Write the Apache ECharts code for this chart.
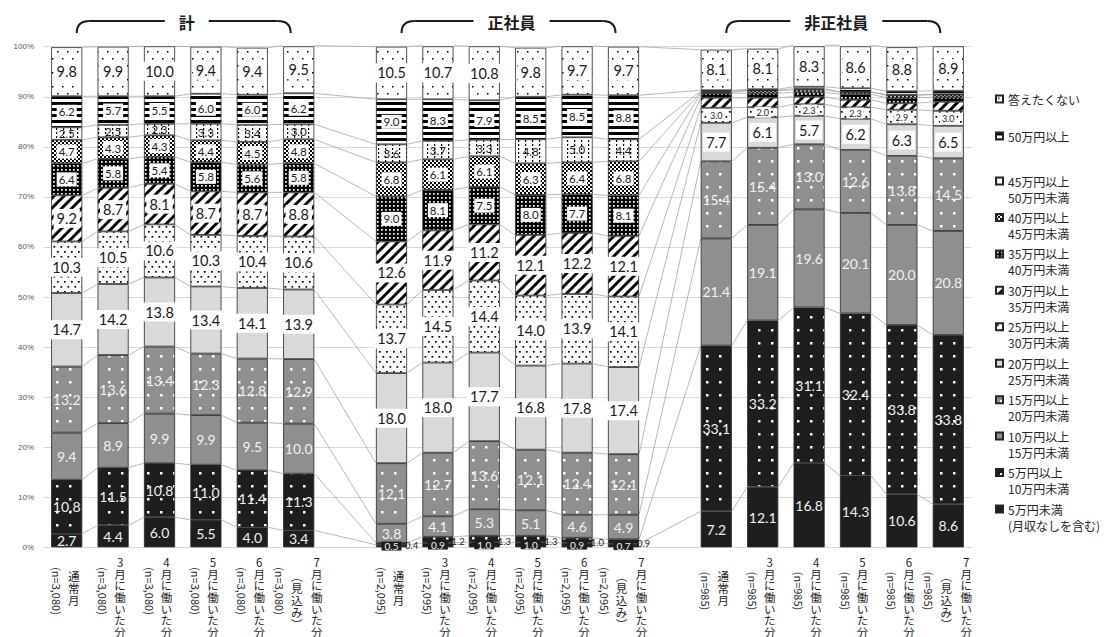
<!DOCTYPE html>
<html>
<head>
<meta charset="utf-8">
<script src="https://cdn.jsdelivr.net/npm/echarts@6/dist/echarts.min.js"></script>
<style>
  html, body { margin: 0; padding: 0; background: #ffffff; }
  #chart { width: 1105px; height: 637px; }
</style>
</head>
<body>
<div id="chart"></div>
<script>
// ---- data -------------------------------------------------------------
const groups = ['計', '正社員', '非正社員'];
const sampleSizes = ['3,080', '2,095', '985'];
const periods = ['通常月', '3月に働いた分', '4月に働いた分', '5月に働いた分', '6月に働いた分', '7月に働いた分'];

// income bands, bottom of the stack first
const bandNames = [
  '5万円未満（月収なしを含む）', '5万円以上10万円未満', '10万円以上15万円未満', '15万円以上20万円未満',
  '20万円以上25万円未満', '25万円以上30万円未満', '30万円以上35万円未満', '35万円以上40万円未満',
  '40万円以上45万円未満', '45万円以上50万円未満', '50万円以上', '答えたくない'
];
const legendLabels = [
  '5万円未満\n(月収なしを含む)', '5万円以上\n10万円未満', '10万円以上\n15万円未満', '15万円以上\n20万円未満',
  '20万円以上\n25万円未満', '25万円以上\n30万円未満', '30万円以上\n35万円未満', '35万円以上\n40万円未満',
  '40万円以上\n45万円未満', '45万円以上\n50万円未満', '50万円以上', '答えたくない'
];

// each array: 計 ×6, 正社員 ×6, 非正社員 ×6 (%)
const under5   = [2.7, 4.4, 6.0, 5.5, 4.0, 3.4,   0.5, 0.9, 1.0, 1.0, 0.9, 0.7,   7.2, 12.1, 16.8, 14.3, 10.6, 8.6];
const from5    = [10.8, 11.5, 10.8, 11.0, 11.4, 11.3,   0.4, 1.2, 1.3, 1.3, 1.0, 0.9,   33.1, 33.2, 31.1, 32.4, 33.8, 33.8];
const from10   = [9.4, 8.9, 9.9, 9.9, 9.5, 10.0,   3.8, 4.1, 5.3, 5.1, 4.6, 4.9,   21.4, 19.1, 19.6, 20.1, 20.0, 20.8];
const from15   = [13.2, 13.6, 13.4, 12.3, 12.8, 12.9,   12.1, 12.7, 13.6, 12.1, 12.4, 12.1,   15.4, 15.4, 13.0, 12.6, 13.8, 14.5];
const from20   = [14.7, 14.2, 13.8, 13.4, 14.1, 13.9,   18.0, 18.0, 17.7, 16.8, 17.8, 17.4,   7.7, 6.1, 5.7, 6.2, 6.3, 6.5];
const from25   = [10.3, 10.5, 10.6, 10.3, 10.4, 10.6,   13.7, 14.5, 14.4, 14.0, 13.9, 14.1,   3.0, 2.0, 2.3, 2.3, 2.9, 3.0];
const from30   = [9.2, 8.7, 8.1, 8.7, 8.7, 8.8,   12.6, 11.9, 11.2, 12.1, 12.2, 12.1,   2.0, 1.9, 1.5, 1.5, 1.3, 1.8];
const from35   = [6.4, 5.8, 5.4, 5.8, 5.6, 5.8,   9.0, 8.1, 7.5, 8.0, 7.7, 8.1,   0.9, 0.9, 0.9, 1.1, 1.1, 0.9];
const from40   = [4.7, 4.3, 4.3, 4.4, 4.5, 4.8,   6.8, 6.1, 6.1, 6.3, 6.4, 6.8,   0.2, 0.5, 0.5, 0.4, 0.5, 0.5];
const from45   = [2.5, 2.5, 2.3, 3.3, 3.4, 3.0,   3.6, 3.7, 3.3, 4.8, 5.0, 4.4,   0.2, 0.1, 0.2, 0.1, 0.1, 0.1];
const over50   = [6.2, 5.7, 5.5, 6.0, 6.0, 6.2,   9.0, 8.3, 7.9, 8.5, 8.5, 8.8,   0.2, 0.2, 0.4, 0.7, 0.7, 0.7];
const noAnswer = [9.8, 9.9, 10.0, 9.4, 9.4, 9.5,   10.5, 10.7, 10.8, 9.8, 9.7, 9.7,   8.1, 8.1, 8.3, 8.6, 8.8, 8.9];

const bands = [under5, from5, from10, from15, from20, from25, from30, from35, from40, from45, over50, noAnswer];

// ---- fills ------------------------------------------------------------
function tile(w, h, bg, draw) {
  const c = document.createElement('canvas');
  c.width = w; c.height = h;
  const ctx = c.getContext('2d');
  ctx.fillStyle = bg; ctx.fillRect(0, 0, w, h);
  draw(ctx);
  return { image: c, repeat: 'repeat' };
}
const BLACK = '#1e1e1e', GRAY = '#8f8f8f', LIGHT = '#d9d9d9';
const fills = [
  BLACK,
  tile(13, 13, BLACK, ctx => { ctx.fillStyle = '#fff'; ctx.fillRect(4, 4, 2.5, 2.5); }),
  GRAY,
  tile(13, 13, GRAY, ctx => { ctx.fillStyle = '#fff'; ctx.fillRect(4, 4, 2.5, 2.5); }),
  LIGHT,
  tile(7, 10, '#fff', ctx => { ctx.fillStyle = '#000'; ctx.fillRect(1, 1, 1.7, 1.7); ctx.fillRect(4.5, 6, 1.7, 1.7); }),
  tile(10, 10, '#fff', ctx => {
    ctx.strokeStyle = '#000'; ctx.lineWidth = 3;
    [-10, 0, 10].forEach(o => { ctx.beginPath(); ctx.moveTo(o - 1, 11); ctx.lineTo(o + 11, -1); ctx.stroke(); });
  }),
  tile(4, 4, '#000', ctx => { ctx.fillStyle = '#fff'; ctx.fillRect(1, 1, 1.7, 1.7); }),
  tile(4, 4, '#fff', ctx => { ctx.fillStyle = '#000'; ctx.fillRect(0, 0, 2, 2); ctx.fillRect(2, 2, 2, 2); }),
  tile(7, 4, '#fff', ctx => { ctx.fillStyle = '#000'; ctx.fillRect(0, 0, 1.2, 2); }),
  tile(4, 6, '#fff', ctx => { ctx.fillStyle = '#000'; ctx.fillRect(0, 0, 4, 3); }),
  tile(10, 14, '#fff', ctx => { ctx.fillStyle = '#000'; ctx.fillRect(2, 2, 1.5, 1.5); ctx.fillRect(7, 9, 1.5, 1.5); })
];

// ---- categories (one empty slot between groups) ------------------------
const categories = [];
const catIndex = [];
groups.forEach((g, gi) => {
  if (gi > 0) categories.push(' '.repeat(gi));
  periods.forEach(p => { catIndex.push(categories.length); categories.push(g + '・' + p); });
});

// ---- label styles ------------------------------------------------------
const NUM_FONT = 'Lato, "Open Sans", sans-serif';
const darkText = { color: '#f2f2f2', fontSize: 14 };
const boxText = { color: '#1a1a1a', fontSize: 14.5, backgroundColor: '#ffffff', padding: [2, 3] };
const smallBox = { color: '#1a1a1a', fontSize: 11.5, backgroundColor: '#ffffff', padding: [1, 2] };
const bandLabel = [darkText, darkText, darkText, darkText, boxText, boxText, boxText,
  smallBox, smallBox, { color: '#1a1a1a', fontSize: 11.5 }, smallBox, boxText];

function labelOverride(k, group) {
  if (group === 1 && k === 0) return { fontSize: 10, backgroundColor: BLACK, color: '#f2f2f2', padding: [0, 3], lineHeight: 9 };
  if (group === 1 && k === 1) return { position: 'right', distance: -2, offset: [0, 2], fontSize: 9.5, color: '#1a1a1a' };
  if (group === 2 && k >= 6 && k <= 10) return { show: false };
  if (group === 2 && k === 5) return { fontSize: 9, padding: [1, 2] };
  return null;
}

const BAR_FRACTION = 0.67;

const barSeries = bands.map((vals, k) => {
  const data = categories.map(() => '-');
  vals.forEach((v, n) => {
    const ov = labelOverride(k, Math.floor(n / 6));
    data[catIndex[n]] = ov ? { value: v, label: ov } : v;
  });
  return {
    name: bandNames[k],
    type: 'bar',
    stack: 'total',
    barWidth: (BAR_FRACTION * 100) + '%',
    z: 3,
    itemStyle: { color: fills[k], borderColor: '#262626', borderWidth: 0.8 },
    label: Object.assign({ show: true, position: 'inside', fontFamily: NUM_FONT,
      formatter: p => Number(p.value).toFixed(1) }, bandLabel[k]),
    data
  };
});

// series lines linking each band boundary between neighbouring bars
const linkData = [];
for (let n = 0; n < catIndex.length - 1; n++) {
  let a = 0, b = 0;
  bands.forEach(vals => {
    a += vals[n]; b += vals[n + 1];
    linkData.push([catIndex[n], a, catIndex[n + 1], b]);
  });
}
const linkSeries = {
  type: 'custom',
  silent: true,
  z: 1,
  encode: { x: [0, 2], y: [1, 3] },
  renderItem(params, api) {
    const p1 = api.coord([api.value(0), api.value(1)]);
    const p2 = api.coord([api.value(2), api.value(3)]);
    const half = api.size([1, 0])[0] * BAR_FRACTION / 2;
    return {
      type: 'line',
      shape: { x1: p1[0] + half, y1: p1[1], x2: p2[0] - half, y2: p2[1] },
      style: { stroke: '#a6a6a6', lineWidth: 0.8 }
    };
  },
  data: linkData
};

// ---- legend: one block per band; the icon sits beside the first line ----
const legendRowY = [509, 472.6, 436.1, 399.7, 363.2, 326.8, 290.3, 253.9, 217.4, 181, 136, 99];
const LEG_LINE = 16;
const legends = bandNames.map((name, k) => {
  const twoLines = legendLabels[k].indexOf('\n') >= 0;
  const h = twoLines ? LEG_LINE * 3 : LEG_LINE;
  return {
    data: [name],
    left: 995,
    top: legendRowY[k] - h / 2,
    padding: 0,
    itemWidth: 7,
    itemHeight: 7,
    icon: 'rect',
    selectedMode: false,
    // an empty leading line keeps the first text line centred on the icon
    formatter: () => (twoLines ? '\n' : '') + legendLabels[k],
    textStyle: {
      fontFamily: '"Noto Sans CJK JP", sans-serif', fontSize: 12, color: '#262626',
      lineHeight: LEG_LINE
    }
  };
});

const chart = echarts.init(document.getElementById('chart'), null, { renderer: 'svg' });
chart.setOption({
  animation: false,
  grid: { left: 43.5, right: 133.5, top: 46.7, bottom: 89.7 },
  legend: legends,
  xAxis: {
    type: 'category',
    data: categories,
    axisLine: { show: false },
    axisTick: { show: false },
    axisLabel: { show: false }
  },
  yAxis: {
    type: 'value',
    min: 0, max: 100, interval: 10,
    axisLabel: { formatter: '{value}%', fontSize: 8, color: '#595959', margin: 9.5,
      fontFamily: '"Liberation Sans Narrow", "Liberation Sans", sans-serif' },
    splitLine: { lineStyle: { color: '#d9d9d9', width: 1 } },
    axisLine: { show: false },
    axisTick: { show: false }
  },
  series: barSeries.concat([linkSeries])
});

// ---- category labels (vertical) and group headers -----------------------
const JP_FONT = '"Noto Sans CJK JP", sans-serif';
const px = i => chart.convertToPixel({ xAxisIndex: 0 }, i);
const graphics = [];
const stack = s => s.split('').join('\n');
const COL_FONT = '11.5px ' + JP_FONT, COL_STEP = 11.7;

catIndex.forEach((ci, n) => {
  const x = px(ci);
  const g = Math.floor(n / 6), p = n % 6;
  const last = p === 5;
  graphics.push({
    type: 'text', x: x + (last ? -19 : -10), y: 591, rotation: -Math.PI / 2,
    style: { text: '(n=' + sampleSizes[g] + ')', font: '11px ' + JP_FONT, fill: '#262626',
      align: 'center', verticalAlign: 'middle' }
  });
  if (p === 0) {
    graphics.push({
      type: 'text', x: x + 7, y: 588,
      style: { text: stack(periods[p]), font: COL_FONT, lineHeight: COL_STEP, fill: '#262626',
        align: 'center', verticalAlign: 'middle' }
    });
  } else {
    graphics.push({
      type: 'text', x: x + (last ? 18 : 7), y: 556,
      style: { text: stack(periods[p]), font: COL_FONT, lineHeight: COL_STEP, fill: '#262626',
        align: 'center', verticalAlign: 'top' }
    });
  }
  if (last) {
    graphics.push({
      type: 'text', x: x - 2, y: 600,
      style: { text: '︵\n見\n込\nみ\n︶', font: COL_FONT, lineHeight: 12, fill: '#262626',
        align: 'center', verticalAlign: 'middle' }
    });
  }
});

// bracketed group headers above each block of bars
const HEAD_Y = 21, HEAD_END = 33, CURVE = 13;
groups.forEach((name, gi) => {
  const first = px(catIndex[gi * 6]), lastX = px(catIndex[gi * 6 + 5]);
  const cx = (first + lastX) / 2 + 4;
  const L = first + 10, R = lastX - 8;
  const half = name.length * 8 + 14;
  const stroke = { stroke: '#1a1a1a', lineWidth: 2, fill: 'none' };
  graphics.push(
    { type: 'bezierCurve', shape: { x1: L, y1: HEAD_END, cpx1: L, cpy1: HEAD_Y, x2: L + CURVE, y2: HEAD_Y }, style: stroke },
    { type: 'line', shape: { x1: L + CURVE, y1: HEAD_Y, x2: cx - half, y2: HEAD_Y }, style: stroke },
    { type: 'line', shape: { x1: cx + half, y1: HEAD_Y, x2: R - CURVE, y2: HEAD_Y }, style: stroke },
    { type: 'bezierCurve', shape: { x1: R - CURVE, y1: HEAD_Y, cpx1: R, cpy1: HEAD_Y, x2: R, y2: HEAD_END }, style: stroke },
    { type: 'text', x: cx, y: HEAD_Y + 1,
      style: { text: name, font: 'bold 16px ' + JP_FONT, fill: '#1a1a1a', align: 'center', verticalAlign: 'middle' } }
  );
});

chart.setOption({ graphic: graphics });
</script>
</body>
</html>
